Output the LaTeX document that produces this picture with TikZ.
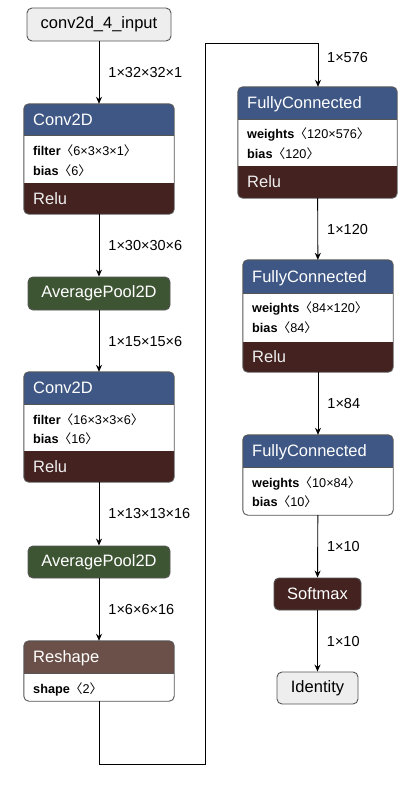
\documentclass[tikz,border=0pt]{standalone}
\usepackage{fontspec}
\setmainfont{Liberation Sans}
\newfontfamily\cjk{Noto Sans CJK SC}
\usetikzlibrary{arrows.meta}
\definecolor{layerc}{HTML}{3E5784}
\definecolor{actc}{HTML}{432220}
\definecolor{poolc}{HTML}{3E5534}
\definecolor{shapec}{HTML}{6B5049}
\definecolor{inc}{HTML}{EEEEEE}
\definecolor{framec}{HTML}{555555}
\newcommand{\lb}{{\cjk 〈}}
\newcommand{\rb}{{\cjk 〉}}
\begin{document}
\begin{tikzpicture}[x=1pt,y=-1pt,
  frame/.style={draw=framec, line width=0.9pt, rounded corners=5pt},
  bigbox/.style={rectangle, inner sep=0pt},
  simple/.style={rectangle, draw=framec, line width=0.9pt, rounded corners=5pt, inner sep=0pt, font=\fontsize{16.5}{19}\selectfont},
  ttl/.style={anchor=west, inner sep=0pt, text depth=0pt, text=white, font=\fontsize{16.5}{19}\selectfont},
  prm/.style={anchor=west, inner sep=0pt, text depth=0pt, font=\fontsize{12.7}{15}\selectfont},
  lbl/.style={anchor=west, inner sep=0pt, text depth=0pt, font=\fontsize{14.5}{17}\selectfont},
  sep/.style={draw=framec, line width=0.6pt},
  arr/.style={draw=black, line width=0.9pt, -{Stealth[length=7pt,width=6pt]}},
  conn/.style={draw=black, line width=0.9pt}
]
\useasboundingbox (0,0) rectangle (409,790);

% ---------- left column ----------
\node[simple, fill=inc, minimum width=144pt, minimum height=33pt] (in) at (99,24.5) {conv2d\_4\_input};

% Conv2D 1
\node[bigbox, minimum width=150pt, minimum height=110pt] (conv1) at (99,159) {};
\begin{scope}
\clip[rounded corners=5pt] (conv1.north west) rectangle (conv1.south east);
\fill[white] (conv1.north west) rectangle (conv1.south east);
\fill[layerc] (24,104) rectangle (174,135);
\fill[actc] (24,183) rectangle (174,214);
\end{scope}
\draw[sep] (24,135) -- (174,135);
\draw[frame] (conv1.north west) rectangle (conv1.south east);
\node[ttl] (conv1t) at (33,119.5) {Conv2D};
\node[prm] (conv1p1) at (33,150) {\textbf{filter}\lb6×3×3×1\rb};
\node[prm] (conv1p2) at (33,170) {\textbf{bias}\lb6\rb};
\node[ttl, text=inc] (conv1a) at (33,198.5) {Relu};

% AveragePool 1
\node[simple, fill=poolc, text=white, minimum width=142pt, minimum height=33pt] (pool1) at (99,293.5) {AveragePool2D};

% Conv2D 2
\node[bigbox, minimum width=150pt, minimum height=110pt] (conv2) at (99,427) {};
\begin{scope}
\clip[rounded corners=5pt] (conv2.north west) rectangle (conv2.south east);
\fill[white] (conv2.north west) rectangle (conv2.south east);
\fill[layerc] (24,372) rectangle (174,404);
\fill[actc] (24,451) rectangle (174,482);
\end{scope}
\draw[sep] (24,404) -- (174,404);
\draw[frame] (conv2.north west) rectangle (conv2.south east);
\node[ttl] (conv2t) at (33,388) {Conv2D};
\node[prm] (conv2p1) at (33,419) {\textbf{filter}\lb16×3×3×6\rb};
\node[prm] (conv2p2) at (33,438.5) {\textbf{bias}\lb16\rb};
\node[ttl, text=inc] (conv2a) at (33,466.5) {Relu};

% AveragePool 2
\node[simple, fill=poolc, text=white, minimum width=142pt, minimum height=32pt] (pool2) at (99,562) {AveragePool2D};

% Reshape
\node[bigbox, minimum width=150pt, minimum height=60pt] (resh) at (99,671) {};
\begin{scope}
\clip[rounded corners=5pt] (resh.north west) rectangle (resh.south east);
\fill[white] (resh.north west) rectangle (resh.south east);
\fill[shapec] (24,641) rectangle (174,673);
\end{scope}
\draw[sep] (24,673) -- (174,673);
\draw[frame] (resh.north west) rectangle (resh.south east);
\node[ttl] (resht) at (33,657) {Reshape};
\node[prm] (reshp) at (33,688) {\textbf{shape}\lb2\rb};

% ---------- right column ----------
% FC1
\node[bigbox, minimum width=159pt, minimum height=111pt] (fc1) at (317.5,142.5) {};
\begin{scope}
\clip[rounded corners=5pt] (fc1.north west) rectangle (fc1.south east);
\fill[white] (fc1.north west) rectangle (fc1.south east);
\fill[layerc] (238,87) rectangle (397,119);
\fill[actc] (238,166) rectangle (397,198);
\end{scope}
\draw[sep] (238,119) -- (397,119);
\draw[frame] (fc1.north west) rectangle (fc1.south east);
\node[ttl] (fc1t) at (247,103) {FullyConnected};
\node[prm] (fc1p1) at (247,133.5) {\textbf{weights}\lb120×576\rb};
\node[prm] (fc1p2) at (247,153) {\textbf{bias}\lb120\rb};
\node[ttl, text=inc] (fc1a) at (247,182) {Relu};

% FC2
\node[bigbox, minimum width=150pt, minimum height=112pt] (fc2) at (318,316) {};
\begin{scope}
\clip[rounded corners=5pt] (fc2.north west) rectangle (fc2.south east);
\fill[white] (fc2.north west) rectangle (fc2.south east);
\fill[layerc] (243,260) rectangle (393,293);
\fill[actc] (243,342) rectangle (393,372);
\end{scope}
\draw[sep] (243,293) -- (393,293);
\draw[frame] (fc2.north west) rectangle (fc2.south east);
\node[ttl] (fc2t) at (252,276.5) {FullyConnected};
\node[prm] (fc2p1) at (252,307.5) {\textbf{weights}\lb84×120\rb};
\node[prm] (fc2p2) at (252,327) {\textbf{bias}\lb84\rb};
\node[ttl, text=inc] (fc2a) at (252,357) {Relu};

% FC3
\node[bigbox, minimum width=150pt, minimum height=80pt] (fc3) at (318,475) {};
\begin{scope}
\clip[rounded corners=5pt] (fc3.north west) rectangle (fc3.south east);
\fill[white] (fc3.north west) rectangle (fc3.south east);
\fill[layerc] (243,435) rectangle (393,467);
\end{scope}
\draw[sep] (243,467) -- (393,467);
\draw[frame] (fc3.north west) rectangle (fc3.south east);
\node[ttl] (fc3t) at (252,451) {FullyConnected};
\node[prm] (fc3p1) at (252,482) {\textbf{weights}\lb10×84\rb};
\node[prm] (fc3p2) at (252,501.5) {\textbf{bias}\lb10\rb};

% Softmax, Identity
\node[simple, fill=actc, text=white, minimum width=87pt, minimum height=32pt] (soft) at (317.5,594) {Softmax};
\node[simple, fill=inc, minimum width=81pt, minimum height=32pt] (ident) at (317.5,688) {Identity};

% ---------- connectors ----------
\draw[arr] (in) -- node[lbl, right=9pt] {1×32×32×1} (conv1);
\draw[arr] (conv1) -- node[lbl, right=9pt] {1×30×30×6} (pool1);
\draw[arr] (pool1) -- node[lbl, right=9pt] {1×15×15×6} (conv2);
\draw[arr] (conv2) -- node[lbl, right=9pt] {1×13×13×16} (pool2);
\draw[arr] (pool2) -- node[lbl, right=9pt] {1×6×6×16} (resh);

\coordinate (b1) at (99,764);
\coordinate (b2) at (205,764);
\coordinate (b3) at (205,43);
\coordinate (b4) at (318,43);
\draw[arr] (resh.south) -- (b1) -- (b2) -- (b3) -- (b4) -- (fc1.north -| b4);
\node[lbl] (l576) at (327,57) {1×576};

\draw[arr] (fc1) -- node[lbl, right=9pt] {1×120} (fc2);
\draw[arr] (fc2) -- node[lbl, right=9pt] {1×84} (fc3);
\draw[arr] (fc3) -- node[lbl, right=9pt] {1×10} (soft);
\draw[arr] (soft) -- node[lbl, right=9pt] {1×10} (ident);
\end{tikzpicture}
\end{document}
